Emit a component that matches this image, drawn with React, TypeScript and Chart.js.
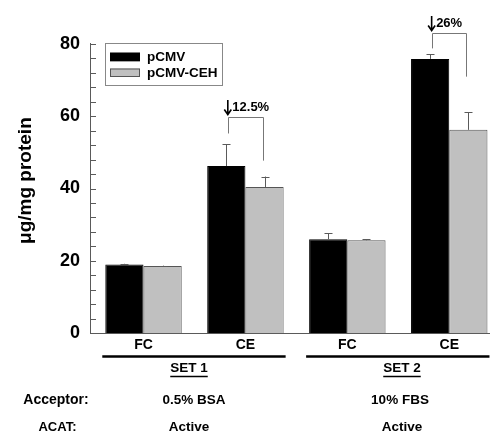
import React, { useEffect, useRef } from 'react';
import { Chart, registerables } from 'chart.js';

Chart.register(...registerables);

// ---- data ----
const categories = ['FC', 'CE', 'FC', 'CE'];
const seriesNames = ['pCMV', 'pCMV-CEH'];
const pcmv = [19.0, 46.2, 26.0, 75.8];
const pcmvErr = [0.2, 6.0, 1.6, 1.3];
const pcmvCeh = [18.6, 40.4, 25.7, 56.2];
const pcmvCehErr = [0.1, 2.9, 0.3, 4.9];
const yTicks = [0, 20, 40, 60, 80];
const bracketCats = [1, 3];
const bracketLabels = ['12.5%', '26%'];
const bracketTop = [59.7, 82.9];
const bracketLeftEnd = [55.2, 78.7];
const bracketRightEnd = [47.7, 70.9];
const setNames = ['SET 1', 'SET 2'];
const acceptors = ['0.5% BSA', '10% FBS'];
const acats = ['Active', 'Active'];
const rowLabels = ['Acceptor:', 'ACAT:'];

const FONT = '"Liberation Sans", Arial, sans-serif';
const BLACK = '#000000';
const GRAY = '#c0c0c0';
const LINE = '#5a5a5a';

const errs = [pcmvErr, pcmvCehErr];

const errorBarPlugin = {
  id: 'errorBars',
  afterDatasetsDraw(chart: any) {
    const ctx = chart.ctx;
    const y = chart.scales.y;
    ctx.save();
    ctx.strokeStyle = LINE;
    ctx.lineWidth = 1;
    chart.data.datasets.forEach((ds: any, d: number) => {
      const meta = chart.getDatasetMeta(d);
      meta.data.forEach((el: any, i: number) => {
        const v = ds.data[i].y;
        const top = y.getPixelForValue(v + errs[d][i]);
        const x = Math.round(el.x) + 0.5;
        ctx.beginPath();
        ctx.moveTo(x, el.y);
        ctx.lineTo(x, top);
        ctx.moveTo(x - 4, Math.round(top) + 0.5);
        ctx.lineTo(x + 4, Math.round(top) + 0.5);
        ctx.stroke();
      });
    });
    ctx.restore();
  },
};

const minorTickPlugin = {
  id: 'minorTicks',
  afterDraw(chart: any) {
    const ctx = chart.ctx;
    const y = chart.scales.y;
    const left = chart.chartArea.left;
    ctx.save();
    ctx.strokeStyle = LINE;
    ctx.lineWidth = 1;
    for (let v = 4; v <= 80; v += 4) {
      const py = Math.round(y.getPixelForValue(v)) + 0.5;
      ctx.beginPath();
      ctx.moveTo(left, py);
      ctx.lineTo(left + 6, py);
      ctx.stroke();
    }
    ctx.restore();
  },
};

const bracketPlugin = {
  id: 'brackets',
  afterDraw(chart: any) {
    const ctx = chart.ctx;
    const y = chart.scales.y;
    const m0 = chart.getDatasetMeta(0);
    const m1 = chart.getDatasetMeta(1);
    ctx.save();
    bracketCats.forEach((c, k) => {
      const xl = Math.round(m0.data[c].x + 1.5) + 0.5;
      const xr = Math.round(m1.data[c].x - 2) + 0.5;
      const yt = Math.round(y.getPixelForValue(bracketTop[k])) + 0.5;
      const yl = y.getPixelForValue(bracketLeftEnd[k]);
      const yr = y.getPixelForValue(bracketRightEnd[k]);
      ctx.strokeStyle = '#777';
      ctx.lineWidth = 1;
      ctx.beginPath();
      ctx.moveTo(xl, yl);
      ctx.lineTo(xl, yt);
      ctx.lineTo(xr, yt);
      ctx.lineTo(xr, yr);
      ctx.stroke();
      // arrow
      const ax = m0.data[c].x + 1.5;
      const ab = yt - 3;
      const at = ab - 14.5;
      ctx.strokeStyle = '#000';
      ctx.lineWidth = 1.6;
      ctx.beginPath();
      ctx.moveTo(ax, at);
      ctx.lineTo(ax, ab);
      ctx.moveTo(ax - 3.5, ab - 5);
      ctx.lineTo(ax, ab);
      ctx.lineTo(ax + 3.5, ab - 5);
      ctx.stroke();
      ctx.fillStyle = '#000';
      ctx.font = `bold 13px ${FONT}`;
      ctx.textAlign = 'left';
      ctx.textBaseline = 'alphabetic';
      ctx.fillText(bracketLabels[k], ax + 4.5, at + 10.5);
    });
    ctx.restore();
  },
};

const legendPlugin = {
  id: 'boxLegend',
  afterDraw(chart: any) {
    const ctx = chart.ctx;
    ctx.save();
    ctx.strokeStyle = '#888';
    ctx.lineWidth = 1;
    ctx.strokeRect(105.5, 43.5, 117, 42);
    const rows = [56.7, 72.5];
    chart.data.datasets.forEach((ds: any, d: number) => {
      const cy = rows[d];
      ctx.fillStyle = ds.backgroundColor;
      ctx.fillRect(110, cy - 4, 30, 8.5);
      ctx.strokeStyle = ds.borderColor;
      ctx.strokeRect(110.5, cy - 3.5, 29, 7.5);
      ctx.fillStyle = '#000';
      ctx.font = `bold 13.5px ${FONT}`;
      ctx.textAlign = 'left';
      ctx.textBaseline = 'middle';
      ctx.fillText(ds.label, 147, cy + 0.5);
    });
    ctx.restore();
  },
};

const bottomPlugin = {
  id: 'bottomText',
  afterDraw(chart: any) {
    const ctx = chart.ctx;
    const m0 = chart.getDatasetMeta(0);
    const m1 = chart.getDatasetMeta(1);
    ctx.save();
    ctx.fillStyle = '#000';
    ctx.strokeStyle = '#000';
    const setX = [189, 402];
    const accX = [194, 400];
    const acatX = [189, 402];
    setNames.forEach((name, s) => {
      const a = m0.data[2 * s];
      const b = m1.data[2 * s + 1];
      const left = a.x - a.width / 2 - 3;
      const right = b.x + b.width / 2 + 2;
      ctx.lineWidth = 2.5;
      ctx.beginPath();
      ctx.moveTo(left, 356.5);
      ctx.lineTo(right, 356.5);
      ctx.stroke();
      ctx.font = `bold 13.5px ${FONT}`;
      ctx.textAlign = 'center';
      ctx.textBaseline = 'middle';
      ctx.fillText(name, setX[s], 368.5);
      const w = ctx.measureText(name).width;
      ctx.lineWidth = 1.5;
      ctx.beginPath();
      ctx.moveTo(setX[s] - w / 2, 376.5);
      ctx.lineTo(setX[s] + w / 2, 376.5);
      ctx.stroke();
      ctx.fillText(acceptors[s], accX[s], 400.5);
      ctx.fillText(acats[s], acatX[s], 427);
    });
    ctx.font = `bold 14px ${FONT}`;
    ctx.textAlign = 'center';
    ctx.fillText(rowLabels[0], 56, 400.5);
    ctx.font = `bold 13px ${FONT}`;
    ctx.fillText(rowLabels[1], 57.5, 427);
    ctx.restore();
  },
};

export default function App() {
  const ref = useRef<HTMLCanvasElement | null>(null);
  useEffect(() => {
    if (!ref.current) return;
    const chart = new Chart(ref.current, {
      type: 'bar',
      data: {
        datasets: [
          {
            label: seriesNames[0],
            data: pcmv.map((v, i) => ({ x: i, y: v })),
            backgroundColor: BLACK,
            borderColor: BLACK,
            borderWidth: 1,
          },
          {
            label: seriesNames[1],
            data: pcmvCeh.map((v, i) => ({ x: i, y: v })),
            backgroundColor: GRAY,
            borderColor: '#555',
            borderWidth: 1,
          },
        ],
      },
      options: {
        animation: false,
        responsive: false,
        devicePixelRatio: 1,
        categoryPercentage: 0.75,
        barPercentage: 1,
        layout: { padding: { left: 0, right: 2, top: 43.7, bottom: 0 } },
        plugins: { legend: { display: false }, tooltip: { enabled: false } },
        scales: {
          x: {
            type: 'linear',
            offset: false,
            min: -0.525,
            max: 3.39,
            afterBuildTicks: (s: any) => {
              s.ticks = categories.map((_, i) => ({ value: i }));
            },
            afterFit: (s: any) => {
              s.height = 435 - 333.3;
            },
            ticks: {
              callback: (_v: any, i: number) => categories[i],
              font: { family: FONT, size: 14, weight: 'bold' },
              color: '#000',
              padding: 3,
              autoSkip: false,
              maxRotation: 0,
            },
            grid: { display: false, drawTicks: false, offset: false },
            border: { display: true, color: LINE, width: 1 },
          },
          y: {
            min: 0,
            max: 80,
            afterBuildTicks: (s: any) => {
              s.ticks = yTicks.map((v) => ({ value: v }));
            },
            afterFit: (s: any) => {
              s.width = 90;
            },
            ticks: {
              font: { family: FONT, size: 18, weight: 'bold' },
              color: '#000',
              padding: 10,
            },
            grid: { display: false, drawTicks: false },
            border: { display: true, color: LINE, width: 1 },
            title: {
              display: true,
              text: '   \u03bcg/mg protein',
              font: { family: FONT, size: 19, weight: 'bold' },
              color: '#000',
              padding: { top: 14.6, bottom: 0 },
            },
          },
        },
      },
      plugins: [errorBarPlugin, minorTickPlugin, bracketPlugin, legendPlugin, bottomPlugin],
    } as any);
    return () => chart.destroy();
  }, []);
  return (
    <div style={{ position: 'fixed', left: 0, top: 0, width: 491, height: 435, background: '#fff' }}>
      <canvas ref={ref} width={491} height={435} style={{ width: 491, height: 435, display: 'block' }} />
    </div>
  );
}
